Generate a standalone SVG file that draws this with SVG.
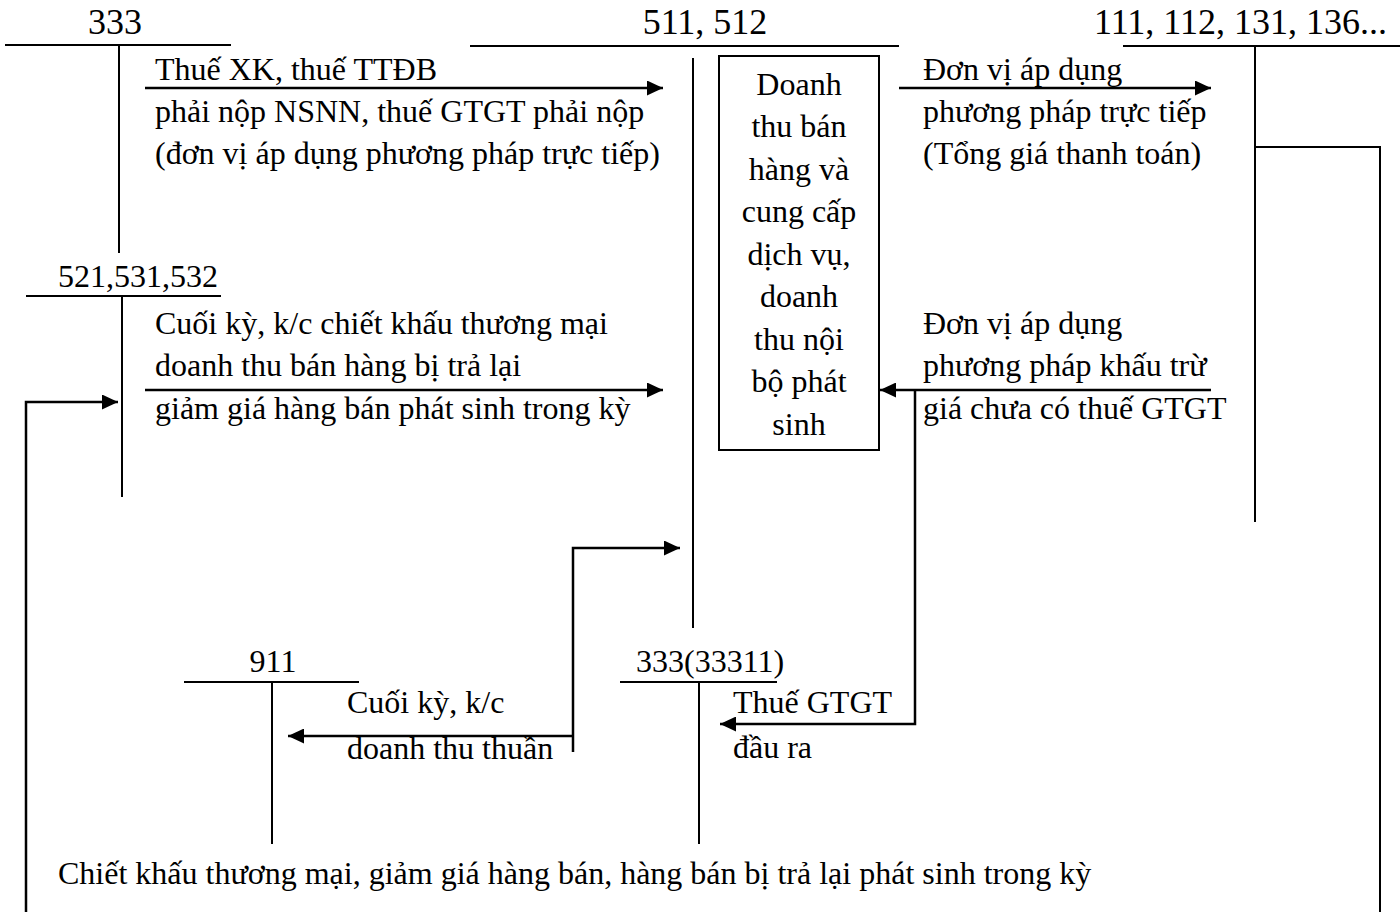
<svg xmlns="http://www.w3.org/2000/svg" width="1400" height="915" viewBox="0 0 1400 915">
<style>
text{font-family:"Liberation Serif","Times New Roman",serif;fill:#000;font-size:32px}
.h{font-size:36px}
.c{text-anchor:middle}
.t{stroke:#000;stroke-width:2;fill:none}
.a{stroke:#000;stroke-width:2.5;fill:none}
</style>
<defs>
<marker id="ah" markerWidth="16" markerHeight="15" refX="16" refY="7.5" orient="auto" markerUnits="userSpaceOnUse">
<path d="M0,0 L16,7.5 L0,15 Z" fill="#000"/>
</marker>
</defs>
<rect width="1400" height="915" fill="#fff"/>
<g id="acc333">
<text class="h c" x="115" y="34">333</text>
<line class="t" x1="5" y1="45" x2="231" y2="45"/>
<line class="t" x1="119" y1="45" x2="119" y2="253"/>
</g>
<g id="acc511">
<text class="h c" x="705" y="34">511, 512</text>
<line class="t" x1="470" y1="46" x2="899" y2="46"/>
<line class="t" x1="693" y1="58" x2="693" y2="628"/>
</g>
<g id="box">
<rect class="t" x="719" y="56" width="160" height="394"/>
<text class="c" x="799" y="95">Doanh</text>
<text class="c" x="799" y="137">thu bán</text>
<text class="c" x="799" y="180">hàng và</text>
<text class="c" x="799" y="222">cung cấp</text>
<text class="c" x="799" y="265">dịch vụ,</text>
<text class="c" x="799" y="307">doanh</text>
<text class="c" x="799" y="350">thu nội</text>
<text class="c" x="799" y="392">bộ phát</text>
<text class="c" x="799" y="435">sinh</text>
</g>
<g id="acc111">
<text class="h" x="1094" y="34">111, 112, 131, 136...</text>
<line class="t" x1="1123" y1="46" x2="1400" y2="46"/>
<line class="t" x1="1255" y1="46" x2="1255" y2="522"/>
</g>
<g id="acc521">
<text x="58" y="287">521,531,532</text>
<line class="t" x1="26" y1="296" x2="221" y2="296"/>
<line class="t" x1="122" y1="296" x2="122" y2="497"/>
</g>
<g id="acc911">
<text class="c" x="273" y="672">911</text>
<line class="t" x1="184" y1="682" x2="359" y2="682"/>
<line class="t" x1="272" y1="682" x2="272" y2="844"/>
</g>
<g id="acc33311">
<text x="636" y="672">333(33311)</text>
<line class="t" x1="620" y1="682" x2="777" y2="682"/>
<line class="t" x1="699" y1="682" x2="699" y2="844"/>
</g>
<g id="connectors">
<line class="a" x1="145" y1="88" x2="663" y2="88" marker-end="url(#ah)"/>
<line class="a" x1="899" y1="88" x2="1211" y2="88" marker-end="url(#ah)"/>
<line class="a" x1="145" y1="390" x2="663" y2="390" marker-end="url(#ah)"/>
<line class="a" x1="1211" y1="390" x2="880" y2="390" marker-end="url(#ah)"/>
<polyline class="a" points="915,390 915,724 720,724" marker-end="url(#ah)"/>
<polyline class="a" points="26,912 26,402 118,402" marker-end="url(#ah)"/>
<polyline class="t" points="1255,147 1380,147 1380,912"/>
<polyline class="a" points="573,752 573,548 680,548" marker-end="url(#ah)"/>
<line class="a" x1="573" y1="736" x2="288" y2="736" marker-end="url(#ah)"/>
</g>
<g id="labels">
<text x="155" y="80">Thuế XK, thuế TTĐB</text>
<text x="155" y="122">phải nộp NSNN, thuế GTGT phải nộp</text>
<text x="155" y="164">(đơn vị áp dụng phương pháp trực tiếp)</text>
<text x="923" y="80">Đơn vị áp dụng</text>
<text x="923" y="122">phương pháp trực tiếp</text>
<text x="923" y="164">(Tổng giá thanh toán)</text>
<text x="155" y="334">Cuối kỳ, k/c chiết khấu thương mại</text>
<text x="155" y="376">doanh thu bán hàng bị trả lại</text>
<text x="155" y="419">giảm giá hàng bán phát sinh trong kỳ</text>
<text x="923" y="334">Đơn vị áp dụng</text>
<text x="923" y="376">phương pháp khấu trừ</text>
<text x="923" y="419">giá chưa có thuế GTGT</text>
<text x="347" y="713">Cuối kỳ, k/c</text>
<text x="347" y="759">doanh thu thuần</text>
<text x="733" y="713">Thuế GTGT</text>
<text x="733" y="758">đầu ra</text>
<text x="58" y="884">Chiết khấu thương mại, giảm giá hàng bán, hàng bán bị trả lại phát sinh trong kỳ</text>
</g>
</svg>
